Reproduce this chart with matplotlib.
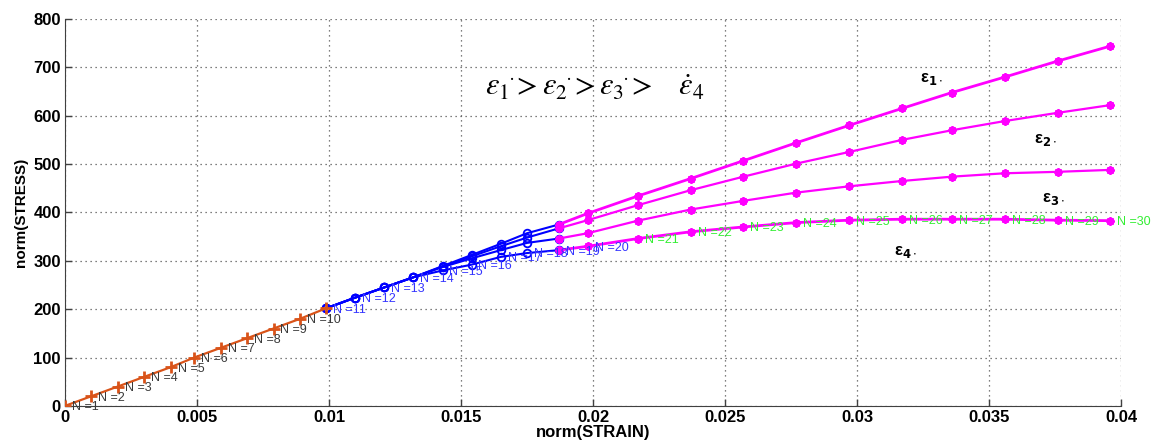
import numpy as np
import matplotlib
matplotlib.use("Agg")
import matplotlib.pyplot as plt

# ---------------------------- data ----------------------------

# N = 1..11 : elastic part (orange)
strain_pre = [0.0, 0.001, 0.002, 0.003, 0.004, 0.0049, 0.0059, 0.0069, 0.0079, 0.0089, 0.0099]
stress_pre = [0, 20, 40, 60, 80, 100, 120, 140, 160, 180, 202]

# N = 11..19 : blue part, one branch per strain rate
strain_blue = [0.0099, 0.011, 0.0121, 0.0132, 0.0143, 0.0154, 0.0165, 0.0175, 0.0187]
stress_blue_1 = [202, 224, 245, 266, 289, 312, 335, 357, 375]
stress_blue_2 = [202, 224, 245, 266, 288, 309, 330, 348, 367]
stress_blue_3 = [202, 224, 245, 266, 287, 305, 322, 337, 346]
stress_blue_4 = [202, 224, 245, 266, 280, 292, 308, 316, 322]

# N = 19..30 : magenta part
strain_mag = [0.0187, 0.0198, 0.0217, 0.0237, 0.0257, 0.0277, 0.0297, 0.0317,
              0.0336, 0.0356, 0.0376, 0.0396]
stress_mag_1 = [375, 398, 434, 470, 507, 544, 580, 615, 648, 680, 713, 744]
stress_mag_2 = [367, 384, 415, 446, 474, 501, 525, 550, 570, 589, 606, 622]
stress_mag_3 = [346, 357, 383, 406, 424, 441, 454, 465, 474, 481, 484, 488]
stress_mag_4 = [322, 330, 346, 360, 370, 379, 384, 386, 386, 386, 384, 383]

xticks = [0, 0.005, 0.01, 0.015, 0.02, 0.025, 0.03, 0.035, 0.04]
xticklabels = ['0', '0.005', '0.01', '0.015', '0.02', '0.025', '0.03', '0.035', '0.04']
yticks = [0, 100, 200, 300, 400, 500, 600, 700, 800]
yticklabels = ['0', '100', '200', '300', '400', '500', '600', '700', '800']

branch_names = [r'ε$_{\mathbf{1}\cdot}$', r'ε$_{\mathbf{2}\cdot}$',
                r'ε$_{\mathbf{3}\cdot}$', r'ε$_{\mathbf{4}\cdot}$']
branch_name_pos = [(0.0324, 676), (0.0367, 550), (0.0370, 428), (0.0314, 318)]

# ------------------------------------ plot ---------------------------------------

plt.rcParams['font.family'] = ['Liberation Sans', 'DejaVu Sans']

fig = plt.figure(figsize=(11.6, 4.48), dpi=100)
ax = fig.add_axes([0.056, 0.094, 0.9104, 0.8636])

blue_sets = [stress_blue_1, stress_blue_2, stress_blue_3, stress_blue_4]
mag_sets = [stress_mag_1, stress_mag_2, stress_mag_3, stress_mag_4]

for s in blue_sets:
    ax.plot(strain_blue, s, '-o', color='#0000ff', lw=1.5, ms=5.5, mfc='none', mew=1.3, zorder=3)

ax.plot(strain_pre, stress_pre, '-+', color='#d95319', lw=1.6, ms=8, mew=2, zorder=4)

for i, s in enumerate(mag_sets):
    ax.plot(strain_mag, s, '-', color='#ff00ff', lw=2.0 if i in (0, 3) else 1.6,
            marker=(8, 2, 0), ms=6, mew=1.5, zorder=5)

# N labels along the lowest branch
lab_x = strain_pre[:10] + strain_blue + strain_mag[1:]
lab_y = stress_pre[:10] + stress_blue_4 + stress_mag_4[1:]
for k, (x, y) in enumerate(zip(lab_x, lab_y)):
    n = k + 1
    if n <= 10:
        c = '#3a3a3a'
    elif n <= 20:
        c = '#3535ff'
    else:
        c = '#33ee33'
    ax.annotate('N =%d' % n, (x, y), xytext=(5, -1), textcoords='offset points',
                fontsize=9, color=c, ha='left', va='center', zorder=6)

for name, (x, y) in zip(branch_names, branch_name_pos):
    ax.text(x, y, name, fontsize=12, fontweight='bold', ha='left', va='center', color='black')

ax.text(0.0159, 657,
        r'$\varepsilon_1{}^{\dot{}} > \varepsilon_2{}^{\dot{}} > \varepsilon_3{}^{\dot{}} >\ \ \ \dot{\varepsilon}_4$',
        fontsize=22, math_fontfamily='stix', ha='left', va='center')

ax.set_xlim(0, 0.04)
ax.set_ylim(0, 800)
ax.set_xticks(xticks)
ax.set_xticklabels(xticklabels, fontsize=12, fontweight='bold')
ax.set_yticks(yticks)
ax.set_yticklabels(yticklabels, fontsize=12, fontweight='bold')
ax.tick_params(direction='in', length=5, width=1, colors='#404040', labelcolor='black', pad=3)

ax.grid(True, linestyle=(0, (1, 3)), color='#555555', lw=0.9)
ax.spines['top'].set_visible(False)
ax.spines['right'].set_visible(False)
ax.spines['left'].set_color('#404040')
ax.spines['bottom'].set_color('#404040')

ax.set_xlabel('norm(STRAIN)', fontsize=12, fontweight='bold', labelpad=0)
ax.set_ylabel('norm(STRESS)', fontsize=11, fontweight='bold', labelpad=4)

fig.savefig('out.png', dpi=100)
